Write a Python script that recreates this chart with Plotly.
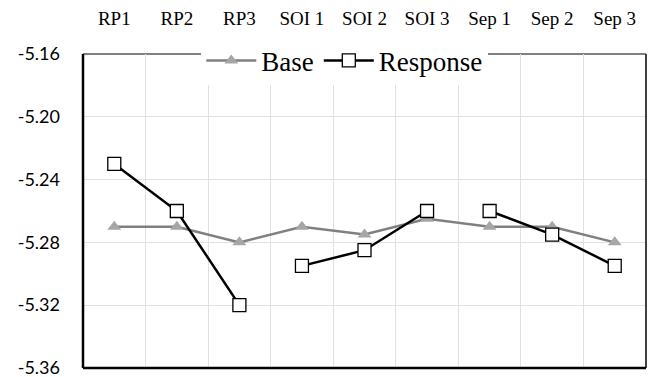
import plotly.graph_objects as go

categories = ["RP1", "RP2", "RP3", "SOI 1", "SOI 2", "SOI 3", "Sep 1", "Sep 2", "Sep 3"]
base = [-5.27, -5.27, -5.28, -5.27, -5.275, -5.265, -5.27, -5.27, -5.28]
response = [-5.23, -5.26, -5.32, -5.295, -5.285, -5.26, -5.26, -5.275, -5.295]
groups = [0, 0, 0, 1, 1, 1, 2, 2, 2]
y_ticks = [-5.36, -5.32, -5.28, -5.24, -5.20, -5.16]

# Response with breaks between groups
resp_x, resp_y = [], []
for i, (c, v) in enumerate(zip(categories, response)):
    if i > 0 and groups[i] != groups[i - 1]:
        resp_x.append(None)
        resp_y.append(None)
    resp_x.append(c)
    resp_y.append(v)

fig = go.Figure()
fig.add_trace(go.Scatter(
    x=categories, y=base, name="Base", mode="lines+markers",
    line=dict(color="#808080", width=2.5),
    marker=dict(symbol="triangle-up", size=12, color="#a6a6a6"),
))
fig.add_trace(go.Scatter(
    x=resp_x, y=resp_y, name="Response", mode="lines+markers",
    line=dict(color="#000000", width=2.5), connectgaps=False,
    marker=dict(symbol="square", size=13, color="white",
                line=dict(color="#000000", width=1.3)),
))

fig.update_layout(
    width=654, height=377,
    margin=dict(l=83, r=8, t=54, b=9),
    paper_bgcolor="white", plot_bgcolor="white",
    showlegend=True,
    legend=dict(orientation="h", x=0.465, xanchor="center", y=0.978, yanchor="middle",
                bgcolor="white", font=dict(family="Liberation Serif", size=27, color="black"),
                itemwidth=50, tracegroupgap=0),
    xaxis=dict(
        type="category", categoryorder="array", categoryarray=categories,
        range=[-0.5, 8.5], side="top", tickson="boundaries",
        showgrid=True, gridcolor="#e0e0e0", gridwidth=1,
        ticks="", ticklabelstandoff=24, automargin=False,
        tickfont=dict(family="Liberation Serif", size=19, color="black"),
        showline=False, zeroline=False,
    ),
    yaxis=dict(
        range=[-5.3601, -5.1599], tickvals=y_ticks,
        ticktext=[f"{v:.2f}" for v in y_ticks],
        showgrid=True, gridcolor="#e0e0e0", gridwidth=1,
        ticks="", ticklabelstandoff=22, ticklabeloverflow="allow", automargin=False,
        tickfont=dict(family="Lato", size=18, color="black"),
        showline=False, zeroline=False,
    ),
    shapes=[
        dict(type="line", xref="paper", yref="paper", x0=0, x1=1, y0=1, y1=1,
             line=dict(color="#808080", width=2), layer="below"),
        dict(type="line", xref="paper", yref="paper", x0=1, x1=1, y0=0, y1=1,
             line=dict(color="#404040", width=2)),
        dict(type="line", xref="paper", yref="paper", x0=0, x1=1, y0=0, y1=0,
             line=dict(color="#000000", width=2.5)),
        dict(type="line", xref="paper", yref="paper", x0=0, x1=0, y0=0, y1=1,
             line=dict(color="#000000", width=2.5)),
    ],
)

fig.write_html("out.html")
